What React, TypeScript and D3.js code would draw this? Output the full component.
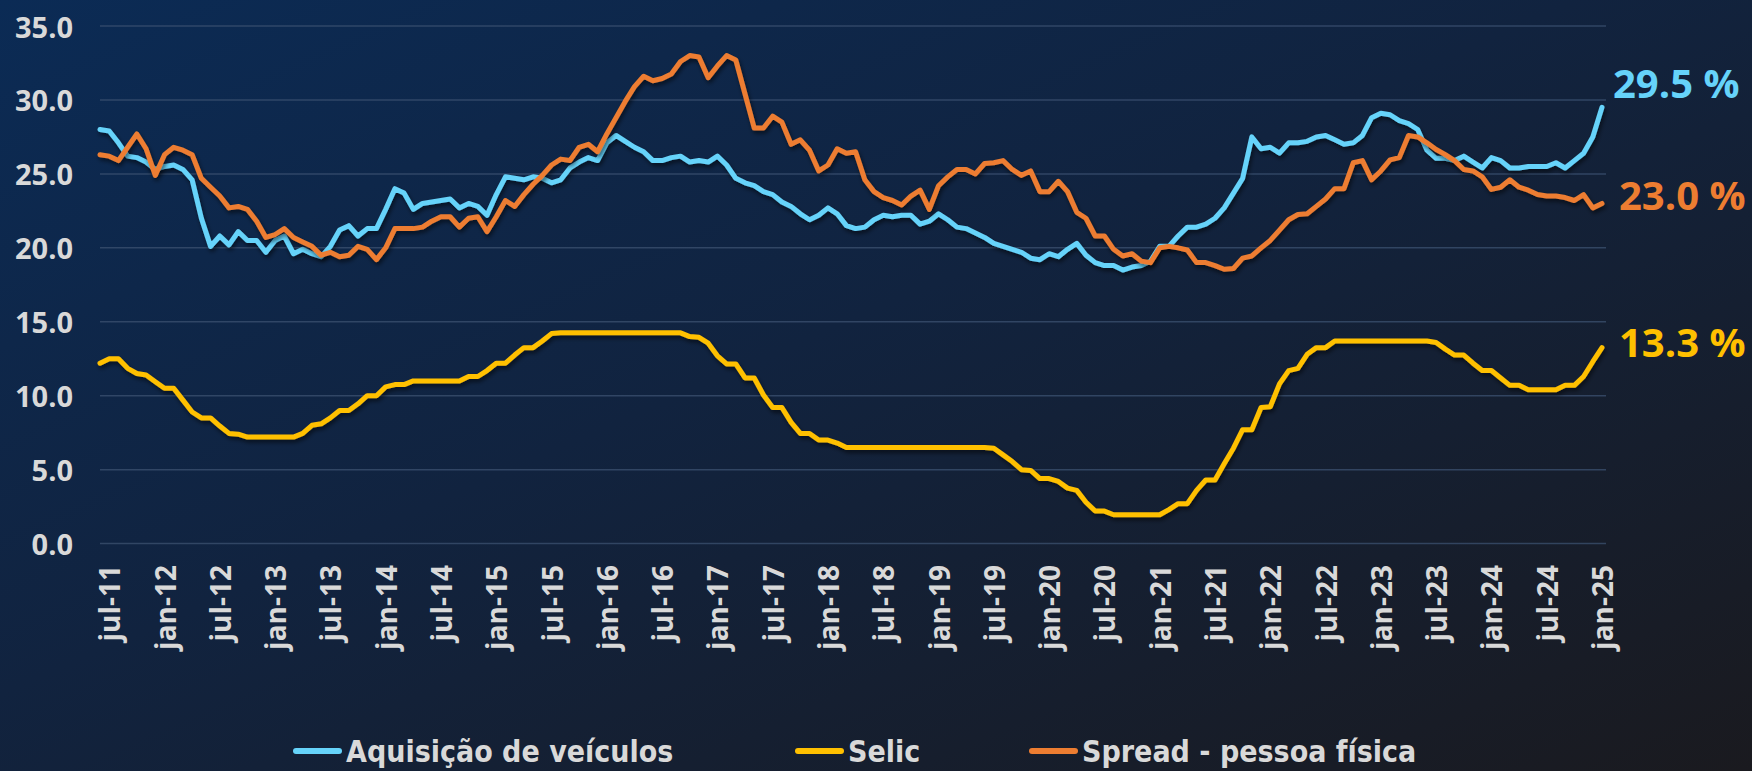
import React from 'react';
import * as d3 from 'd3';

// monthly categories jun-11 .. jan-25
const monthNames = ['jan', 'fev', 'mar', 'abr', 'mai', 'jun', 'jul', 'ago', 'set', 'out', 'nov', 'dez'];
const categories = d3
  .timeMonth.range(new Date(2011, 5, 1), new Date(2025, 1, 1))
  .map(d => `${monthNames[d.getMonth()]}-${String(d.getFullYear()).slice(2)}`);

const tickLabels = [
  'jul-11', 'jan-12', 'jul-12', 'jan-13', 'jul-13', 'jan-14', 'jul-14', 'jan-15', 'jul-15', 'jan-16',
  'jul-16', 'jan-17', 'jul-17', 'jan-18', 'jul-18', 'jan-19', 'jul-19', 'jan-20', 'jul-20', 'jan-21',
  'jul-21', 'jan-22', 'jul-22', 'jan-23', 'jul-23', 'jan-24', 'jul-24', 'jan-25',
];
const yTicks = [0, 5, 10, 15, 20, 25, 30, 35];

const aquisicao = [
  28.0, 27.9, 27.1, 26.2, 26.1, 25.8, 25.3, 25.5, 25.6, 25.3, 24.6, 22.0, 20.1, 20.8, 20.2, 21.1,
  20.5, 20.5, 19.7, 20.5, 20.8, 19.6, 19.9, 19.6, 19.4, 20.1, 21.2, 21.5, 20.8, 21.3, 21.3, 22.6,
  24.0, 23.7, 22.6, 23.0, 23.1, 23.2, 23.3, 22.7, 23.0, 22.8, 22.2, 23.6, 24.8, 24.7, 24.6, 24.8,
  24.7, 24.4, 24.6, 25.4, 25.8, 26.1, 25.9, 27.1, 27.6, 27.2, 26.8, 26.5, 25.9, 25.9, 26.1, 26.2,
  25.8, 25.9, 25.8, 26.2, 25.6, 24.7, 24.4, 24.2, 23.8, 23.6, 23.1, 22.8, 22.3, 21.9, 22.2, 22.7,
  22.3, 21.5, 21.3, 21.4, 21.9, 22.2, 22.1, 22.2, 22.2, 21.6, 21.8, 22.3, 21.9, 21.4, 21.3, 21.0,
  20.7, 20.3, 20.1, 19.9, 19.7, 19.3, 19.2, 19.6, 19.4, 19.9, 20.3, 19.5, 19.0, 18.8, 18.8, 18.5,
  18.7, 18.8, 19.1, 20.1, 20.1, 20.8, 21.4, 21.4, 21.6, 22.0, 22.7, 23.7, 24.7, 27.5, 26.7, 26.8,
  26.4, 27.1, 27.1, 27.2, 27.5, 27.6, 27.3, 27.0, 27.1, 27.6, 28.8, 29.1, 29.0, 28.6, 28.4, 28.0,
  26.6, 26.05, 26.05, 25.9, 26.2, 25.8, 25.4, 26.1, 25.9, 25.4, 25.4, 25.5, 25.5, 25.5, 25.75, 25.4,
  25.9, 26.4, 27.5, 29.5,
];

const selic = [
  12.2, 12.5, 12.5, 11.85, 11.5, 11.4, 10.95, 10.5, 10.5, 9.7, 8.9, 8.5, 8.5, 7.95, 7.45, 7.4,
  7.2, 7.2, 7.2, 7.2, 7.2, 7.2, 7.45, 8.0, 8.1, 8.5, 9.0, 9.0, 9.45, 10.0, 10.0, 10.6,
  10.75, 10.75, 11.0, 11.0, 11.0, 11.0, 11.0, 11.0, 11.3, 11.3, 11.7, 12.2, 12.2, 12.75, 13.25, 13.25,
  13.7, 14.2, 14.25, 14.25, 14.25, 14.25, 14.25, 14.25, 14.25, 14.25, 14.25, 14.25, 14.25, 14.25, 14.25, 14.25,
  14.0, 13.95, 13.55, 12.7, 12.15, 12.15, 11.2, 11.2, 10.05, 9.2, 9.2, 8.2, 7.45, 7.45, 7.0, 7.0,
  6.8, 6.5, 6.5, 6.5, 6.5, 6.5, 6.5, 6.5, 6.5, 6.5, 6.5, 6.5, 6.5, 6.5, 6.5, 6.5,
  6.5, 6.45, 6.0, 5.55, 5.0, 4.95, 4.4, 4.4, 4.2, 3.75, 3.6, 2.8, 2.2, 2.2, 1.95, 1.95,
  1.95, 1.95, 1.95, 1.95, 2.3, 2.7, 2.7, 3.6, 4.3, 4.3, 5.4, 6.45, 7.7, 7.7, 9.2, 9.25,
  10.8, 11.7, 11.85, 12.8, 13.25, 13.25, 13.7, 13.7, 13.7, 13.7, 13.7, 13.7, 13.7, 13.7, 13.7, 13.7,
  13.7, 13.6, 13.15, 12.75, 12.75, 12.2, 11.7, 11.7, 11.2, 10.7, 10.7, 10.4, 10.4, 10.4, 10.4, 10.7,
  10.7, 11.3, 12.3, 13.25,
];

const spread = [
  26.3, 26.2, 25.9, 26.8, 27.7, 26.7, 24.9, 26.3, 26.8, 26.6, 26.3, 24.7, 24.1, 23.5, 22.7, 22.8,
  22.6, 21.8, 20.7, 20.9, 21.3, 20.7, 20.4, 20.1, 19.5, 19.7, 19.4, 19.5, 20.1, 19.9, 19.2, 20.0,
  21.3, 21.3, 21.3, 21.4, 21.8, 22.1, 22.1, 21.4, 22.0, 22.1, 21.1, 22.1, 23.2, 22.8, 23.6, 24.3,
  24.9, 25.6, 26.0, 25.9, 26.8, 27.0, 26.5, 27.7, 28.8, 29.9, 30.9, 31.6, 31.3, 31.45, 31.75, 32.6,
  33.0, 32.9, 31.5, 32.3, 33.0, 32.7, 30.4, 28.1, 28.1, 28.9, 28.5, 27.0, 27.3, 26.6, 25.2, 25.6,
  26.7, 26.4, 26.5, 24.6, 23.8, 23.4, 23.2, 22.9, 23.5, 23.9, 22.6, 24.2, 24.8, 25.3, 25.3, 25.0,
  25.7, 25.75, 25.9, 25.3, 24.9, 25.2, 23.8, 23.8, 24.5, 23.8, 22.4, 22.0, 20.8, 20.8, 19.9, 19.45,
  19.6, 19.1, 19.0, 20.0, 20.1, 20.0, 19.85, 19.0, 19.0, 18.8, 18.55, 18.6, 19.3, 19.45, 20.0, 20.5,
  21.2, 21.9, 22.25, 22.3, 22.8, 23.3, 24.0, 24.0, 25.75, 25.9, 24.6, 25.2, 25.95, 26.1, 27.6, 27.5,
  27.1, 26.65, 26.3, 25.9, 25.3, 25.2, 24.8, 23.95, 24.1, 24.6, 24.1, 23.9, 23.6, 23.5, 23.5, 23.4,
  23.2, 23.6, 22.7, 23.0,
];

const series = [
  { name: 'Aquisição de veículos', values: aquisicao, color: '#66d3fa', endLabel: '29.5 %', labelDy: -25, labelDx: 0 },
  { name: 'Selic', values: selic, color: '#ffc000', endLabel: '13.3 %', labelDy: -6, labelDx: 6 },
  { name: 'Spread - pessoa física', values: spread, color: '#ed7d31', endLabel: '23.0 %', labelDy: -9, labelDx: 6 },
];
// drawing order: blue, orange, yellow on top like the original
const drawOrder = [0, 2, 1];

const W = 1752;
const H = 771;
const labelFont = '"Open Sans", "Liberation Sans", sans-serif';

export default function App() {
  const x = d3.scalePoint<string>().domain(categories).range([100, 1602]);
  const y = d3.scaleLinear().domain([0, 35]).range([543.6, 26]);

  const line = d3
    .line<number>()
    .x((_, i) => x(categories[i]) as number)
    .y(d => y(d));

  const legendItems = [
    { s: series[0], x0: 293 },
    { s: series[1], x0: 795 },
    { s: series[2], x0: 1029 },
  ];

  return (
    <div style={{ position: 'absolute', left: 0, top: 0 }}>
      <svg width={W} height={H} style={{ display: 'block' }}>
        <defs>
          <linearGradient id="bg" x1="0" y1="0" x2="1" y2="1">
            <stop offset="0%" stopColor="#0b2b55" />
            <stop offset="45%" stopColor="#11233f" />
            <stop offset="100%" stopColor="#1a1a1f" />
          </linearGradient>
          <filter id="shadow" x="-5%" y="-5%" width="110%" height="120%">
            <feDropShadow dx="1.5" dy="3" stdDeviation="2" floodColor="#000" floodOpacity="0.55" />
          </filter>
        </defs>
        <rect width={W} height={H} fill="url(#bg)" />

        {/* gridlines */}
        {yTicks.map(t => (
          <line key={t} x1={100} x2={1606} y1={y(t)} y2={y(t)} stroke="#3c5270" strokeOpacity={0.75} strokeWidth={1.5} />
        ))}

        {/* y labels */}
        {yTicks.map(t => (
          <text
            key={'l' + t}
            x={73}
            y={y(t)}
            textAnchor="end"
            dominantBaseline="central"
            fill="#d9d9d9"
            fontFamily={labelFont}
            fontWeight={700}
            fontSize={29}
          >
            {t.toFixed(1)}
          </text>
        ))}

        {/* x labels */}
        {tickLabels.map(l => (
          <text
            key={l}
            transform={`translate(${x(l)},565) rotate(-90)`}
            textAnchor="end"
            dominantBaseline="central"
            fill="#d9d9d9"
            fontFamily={labelFont}
            fontWeight={700}
            fontSize={28}
          >
            {l}
          </text>
        ))}

        {/* lines */}
        {drawOrder.map(k => (
          <path
            key={series[k].name}
            d={line(series[k].values) || ''}
            fill="none"
            stroke={series[k].color}
            strokeWidth={5}
            strokeLinejoin="round"
            strokeLinecap="round"
            filter="url(#shadow)"
          />
        ))}

        {/* end labels */}
        {series.map(s => {
          const last = s.values[s.values.length - 1];
          return (
            <text
              key={'e' + s.name}
              x={1613 + s.labelDx}
              y={y(last) + s.labelDy}
              dominantBaseline="central"
              fill={s.color}
              fontFamily={labelFont}
              fontWeight={700}
              fontSize={40}
            >
              {s.endLabel}
            </text>
          );
        })}

        {/* legend */}
        {legendItems.map(({ s, x0 }) => (
          <g key={'lg' + s.name}>
            <line x1={x0 + 3} x2={x0 + 46} y1={751} y2={751} stroke={s.color} strokeWidth={6} strokeLinecap="round" />
            <text
              x={x0 + 53}
              y={751}
              dominantBaseline="central"
              fill="#d9d9d9"
              fontFamily='"DejaVu Sans Condensed", "DejaVu Sans", sans-serif'
              fontStretch="condensed"
              fontWeight={700}
              fontSize={30}
            >
              {s.name}
            </text>
          </g>
        ))}
      </svg>
    </div>
  );
}
